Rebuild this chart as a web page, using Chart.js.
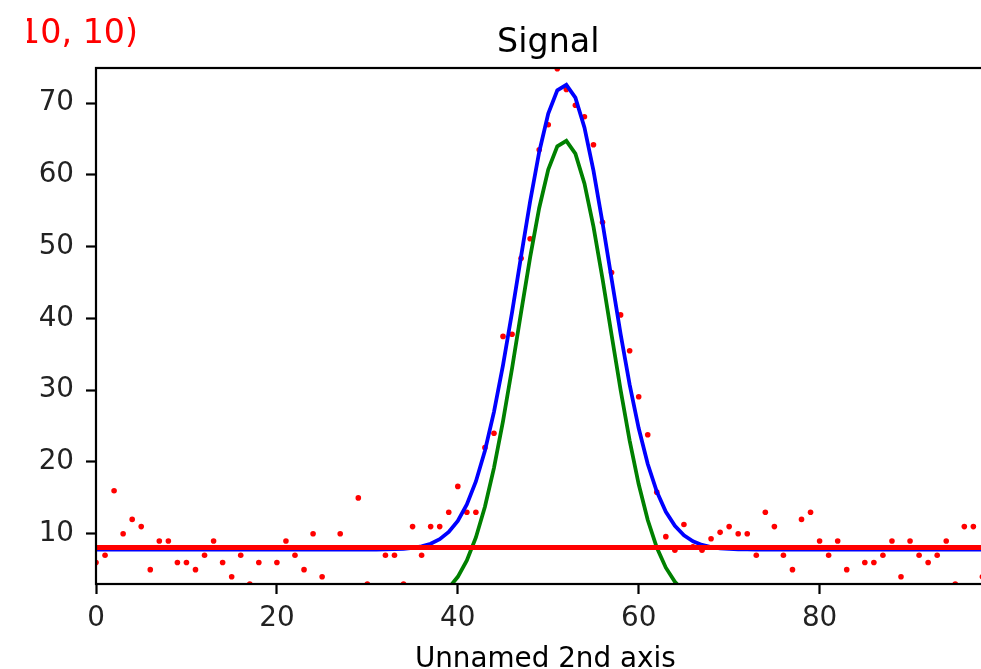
<!DOCTYPE html>
<html>
<head>
<meta charset="utf-8">
<script src="https://cdn.jsdelivr.net/npm/chart.js@4.4.1/dist/chart.umd.min.js"></script>
<style>
  html, body { margin: 0; padding: 0; background: #fff; overflow: hidden; }
  #wrap { width: 1020px; height: 669px; }
</style>
</head>
<body>
<div id="wrap"><canvas id="signalChart" width="1020" height="669"></canvas></div>
<script>
// sample index (2nd axis)
const xIndex = [
  0, 1, 2, 3, 4, 5, 6, 7, 8, 9, 10, 11, 12, 13, 14, 15, 16, 17, 18, 19,
  20, 21, 22, 23, 24, 25, 26, 27, 28, 29, 30, 31, 32, 33, 34, 35, 36, 37, 38, 39,
  40, 41, 42, 43, 44, 45, 46, 47, 48, 49, 50, 51, 52, 53, 54, 55, 56, 57, 58, 59,
  60, 61, 62, 63, 64, 65, 66, 67, 68, 69, 70, 71, 72, 73, 74, 75, 76, 77, 78, 79,
  80, 81, 82, 83, 84, 85, 86, 87, 88, 89, 90, 91, 92, 93, 94, 95, 96, 97, 98, 99
];

// measured signal (red dots)
const measured = [
  6, 7, 16, 10, 12, 11, 5, 9, 9, 6, 6, 5, 7, 9, 6, 4, 7, 3, 6, 8,
  6, 9, 7, 5, 10, 4, 8, 10, 8, 15, 3, 8, 7, 7, 3, 11, 7, 11, 11, 13,
  16.6, 13, 13, 22, 24, 37.5, 37.8, 48.4, 51.1, 63.5, 67, 74.8, 71.9, 69.7, 68.1, 64.2, 53.4, 46.4, 40.5, 35.5,
  29.1, 23.8, 15.8, 9.6, 7.7, 11.3, 8.2, 7.7, 9.3, 10.2, 11, 10, 10, 7, 13, 11, 7, 5, 12, 13,
  9, 7, 9, 5, 8, 6, 6, 7, 9, 4, 9, 7, 6, 7, 9, 3, 11, 11, 4, 8
];

// total fit, peak + background (blue)
const totalFit = [
  7.8, 7.8, 7.8, 7.8, 7.8, 7.8, 7.8, 7.8, 7.8, 7.8, 7.8, 7.8, 7.8, 7.8, 7.8, 7.8, 7.8, 7.8, 7.8, 7.8,
  7.8, 7.8, 7.8, 7.8, 7.8, 7.8, 7.8, 7.8, 7.8, 7.8, 7.81, 7.81, 7.83, 7.86, 7.91, 8.03, 8.24, 8.61, 9.24, 10.25,
  11.8, 14.09, 17.29, 21.57, 26.99, 33.5, 40.87, 48.68, 56.34, 63.2, 68.54, 71.78, 72.55, 70.76, 66.62, 60.6, 53.34, 45.53, 37.84, 30.78,
  24.69, 19.72, 15.89, 13.07, 11.1, 9.79, 8.95, 8.44, 8.14, 7.97, 7.89, 7.84, 7.82, 7.81, 7.8, 7.8, 7.8, 7.8, 7.8, 7.8,
  7.8, 7.8, 7.8, 7.8, 7.8, 7.8, 7.8, 7.8, 7.8, 7.8, 7.8, 7.8, 7.8, 7.8, 7.8, 7.8, 7.8, 7.8, 7.8, 7.8
];

// peak component only (green)
const peakFit = [
  0, 0, 0, 0, 0, 0, 0, 0, 0, 0, 0, 0, 0, 0, 0, 0, 0, 0, 0, 0,
  0, 0, 0, 0, 0, 0, 0, 0, 0, 0, 0.01, 0.01, 0.03, 0.06, 0.11, 0.23, 0.44, 0.81, 1.44, 2.45,
  4.0, 6.29, 9.49, 13.77, 19.19, 25.7, 33.07, 40.88, 48.54, 55.4, 60.74, 63.98, 64.75, 62.96, 58.82, 52.8, 45.54, 37.73, 30.04, 22.98,
  16.89, 11.92, 8.09, 5.27, 3.3, 1.99, 1.15, 0.64, 0.34, 0.17, 0.09, 0.04, 0.02, 0.01, 0, 0, 0, 0, 0, 0,
  0, 0, 0, 0, 0, 0, 0, 0, 0, 0, 0, 0, 0, 0, 0, 0, 0, 0, 0, 0
];

// background level (red line)
const backgroundX = [0, 99];
const backgroundY = [8.1, 8.1];

const xTicks = [0, 20, 40, 60, 80];
const yTicks = [10, 20, 30, 40, 50, 60, 70];
const xRange = [0, 100];
const yRange = [3.0, 74.9];

const FONT = "'DejaVu Sans', sans-serif";

function pts(xs, ys) {
    return xs.map((x, i) => ({ x: x, y: ys[i] }));
}

// frame, title, axis label and the red annotation
const decorations = {
    id: 'decorations',
    afterDatasetsDraw(chart) {
        const { ctx, chartArea: a } = chart;
        ctx.save();
        ctx.strokeStyle = '#000';
        ctx.lineWidth = 2.2;
        ctx.strokeRect(a.left, a.top, a.right - a.left, a.bottom - a.top);

        const cx = (a.left + a.right) / 2;
        ctx.fillStyle = '#000';
        ctx.textAlign = 'center';
        ctx.textBaseline = 'alphabetic';
        ctx.font = '33.3px ' + FONT;
        ctx.fillText('Signal', cx, 51.5);

        ctx.font = '27.8px ' + FONT;
        ctx.fillText('Unnamed 2nd axis', cx - 3, 667);

        // annotation sits partly outside the figure on the left
        ctx.beginPath();
        ctx.rect(27, 0, 300, 60);
        ctx.clip();
        ctx.fillStyle = '#ff0000';
        ctx.textAlign = 'right';
        ctx.font = '33.3px ' + FONT;
        ctx.fillText('(10, 10)', 138, 42.5);
        ctx.restore();
    }
};

const tickFont = { family: FONT, size: 27.8 };

new Chart(document.getElementById('signalChart'), {
    type: 'scatter',
    data: {
        datasets: [
            {
                label: 'background',
                type: 'line',
                data: pts(backgroundX, backgroundY),
                borderColor: '#ff0000',
                borderWidth: 5,
                pointRadius: 0,
                fill: false,
                clip: 0,
                order: 0
            },
            {
                label: 'peak',
                type: 'line',
                data: pts(xIndex, peakFit),
                borderColor: '#008000',
                borderWidth: 3.8,
                pointRadius: 0,
                tension: 0,
                fill: false,
                clip: 0,
                order: 1
            },
            {
                label: 'fit',
                type: 'line',
                data: pts(xIndex, totalFit),
                borderColor: '#0000ff',
                borderWidth: 3.8,
                pointRadius: 0,
                tension: 0,
                fill: false,
                clip: 0,
                order: 2
            },
            {
                label: 'data',
                data: pts(xIndex, measured),
                backgroundColor: '#ff0000',
                borderWidth: 0,
                pointRadius: 2.8,
                clip: 0,
                order: 3
            }
        ]
    },
    options: {
        responsive: false,
        animation: false,
        events: [],
        layout: { padding: { top: 68, left: 0, right: 19.5, bottom: 0 } },
        plugins: { legend: { display: false }, tooltip: { enabled: false }, title: { display: false } },
        scales: {
            x: {
                type: 'linear',
                min: xRange[0], max: xRange[1],
                afterBuildTicks: s => { s.ticks = xTicks.map(v => ({ value: v })); },
                afterFit: s => { s.height = 85; },
                grid: { display: true, drawOnChartArea: false, drawTicks: true, tickLength: 10, tickWidth: 2.2, tickColor: '#000' },
                border: { display: false },
                ticks: { color: '#222', font: tickFont, padding: 8, maxRotation: 0 }
            },
            y: {
                type: 'linear',
                min: yRange[0], max: yRange[1],
                afterBuildTicks: s => { s.ticks = yTicks.map(v => ({ value: v })); },
                afterFit: s => { s.width = 96; },
                grid: { display: true, drawOnChartArea: false, drawTicks: true, tickLength: 10, tickWidth: 2.2, tickColor: '#000' },
                border: { display: false },
                ticks: { color: '#222', font: tickFont, padding: 12 }
            }
        }
    },
    plugins: [decorations]
});
</script>
</body>
</html>
